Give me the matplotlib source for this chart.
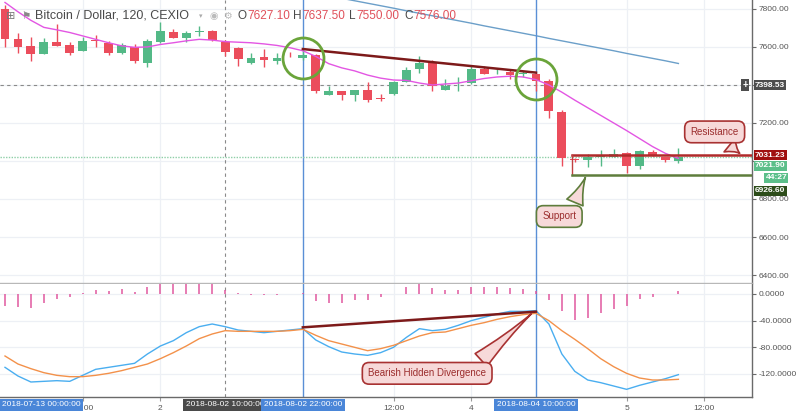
import matplotlib
matplotlib.use('Agg')
import matplotlib.pyplot as plt
from matplotlib.transforms import blended_transform_factory

plt.rcParams['font.family'] = ['Liberation Sans', 'DejaVu Sans']
plt.rcParams['axes.unicode_minus'] = False

# ---------------- data (2h candles, 2018-08-01 00:00 .. 2018-08-05 08:00) ----------------
opens = [7800, 7642, 7605, 7563, 7626, 7610, 7579, 7637, 7621, 7568,
         7600, 7516, 7626, 7679, 7647, 7679, 7684, 7627.1, 7595, 7516,
         7547, 7526, 7553, 7540, 7560, 7345, 7366, 7345, 7371, 7330,
         7350, 7415, 7483, 7518, 7371, 7408, 7410, 7486, 7466, 7470,
         7460, 7460, 7421, 7256, 7012, 7005, 7022, 7022, 7042, 6971,
         7046, 7022, 7000]
highs = [7820, 7674, 7653, 7647, 7721, 7626, 7653, 7663, 7632, 7621,
         7616, 7642, 7731, 7695, 7684, 7710, 7690, 7637.5, 7600, 7569,
         7589, 7570, 7574, 7584, 7565, 7392, 7370, 7375, 7416, 7355,
         7420, 7497, 7553, 7532, 7429, 7440, 7507, 7500, 7486, 7478,
         7476, 7466, 7430, 7268, 7016, 7037, 7060, 7063, 7048, 7060,
         7060, 7022, 7068]
lows = [7600, 7568, 7526, 7563, 7605, 7558, 7579, 7600, 7558, 7563,
        7516, 7495, 7621, 7647, 7626, 7660, 7632, 7550, 7500, 7510,
        7497, 7510, 7547, 7532, 7360, 7345, 7319, 7313, 7310, 7313,
        7345, 7415, 7463, 7366, 7371, 7366, 7405, 7460, 7460, 7431,
        7442, 7370, 7226, 6974, 6995, 6969, 6974, 7022, 6939, 6958,
        7027, 6997, 6990]
closes = [7642, 7600, 7563, 7626, 7605, 7568, 7632, 7632, 7568, 7610,
          7526, 7632, 7684, 7647, 7674, 7684, 7637, 7576, 7537, 7542,
          7529, 7542, 7550, 7558, 7366, 7366, 7345, 7371, 7319, 7326,
          7415, 7480, 7518, 7392, 7392, 7412, 7486, 7460, 7470, 7455,
          7464, 7420, 7265, 7016, 7005, 7022, 7032, 7037, 6976, 7053,
          7027, 7005, 7021.9]

ma_fast = [7834, 7785, 7740, 7703, 7690, 7676, 7658, 7640, 7622, 7606,
           7598, 7600, 7613, 7622, 7632, 7640, 7636, 7628, 7625, 7622,
           7616, 7608, 7596, 7580, 7550, 7512, 7490, 7474, 7452, 7436,
           7426, 7424, 7410, 7400, 7405, 7410, 7422, 7434, 7442, 7446,
           7442, 7428, 7400, 7362, 7320, 7280, 7240, 7200, 7160, 7118,
           7076, 7040, 7014]

ma_slow_start = 26
ma_slow = [7856, 7843, 7830, 7817, 7804, 7790, 7777, 7764, 7751, 7738,
           7725, 7711, 7698, 7685, 7672, 7659, 7645, 7632, 7619, 7606,
           7593, 7580, 7566, 7553, 7540, 7527, 7513]

macd = [-110, -123, -132, -131, -130, -131, -122, -113, -110, -107,
        -104, -90, -78, -70, -58, -49, -45, -49, -54, -56,
        -58, -56, -54, -52, -69, -79, -87, -90, -92, -88,
        -80, -65, -52, -55, -53, -47, -40, -35, -30, -26,
        -26, -25, -45, -90, -116, -129, -133, -138, -143, -137,
        -132, -127, -121]
signal = [-93, -105, -112, -118, -122, -124, -124, -122, -119, -115,
          -110, -105, -97, -88, -78, -67, -60, -55, -56, -56,
          -56, -56, -55, -53, -62, -70, -75, -80, -85, -82,
          -77, -70, -63, -58, -57, -52, -47, -43, -38, -34,
          -31, -29, -40, -55, -68, -82, -97, -109, -119, -126,
          -129, -129, -128]
hist = [-18, -20, -21, -14, -8, -5, 1, 6, 4.5, 8,
        3.5, 11, 17, 17, 17, 18, 15, 6, 1, -1,
        -2, -2, 0, 2, -10, -14, -14, -9, -9, -5,
        0, 11, 17, 9.5, 6, 6, 11, 10, 10, 9.5,
        8, 4.5, -9, -25, -39, -35.5, -28, -23, -18, -8,
        -4, 0, 4.5]

# tick labels / markers
x_ticks = [6, 12, 30, 36, 48, 54]
x_tick_labels = ['12:00', '2', '12:00', '4', '5', '12:00']
price_ticks = [6400, 6600, 6800, 7000, 7200, 7400, 7600, 7800]
hidden_price_ticks = [7000, 7400]   # fully covered by price tags in the reference
macd_ticks = [0, -40, -80, -120]

crosshair_idx = 17
crosshair_price = 7398.53
marked_idx = [23, 41]
marked_labels = ['2018-08-02 22:00:00', '2018-08-04 10:00:00']
crosshair_label = '2018-08-02 10:00:00'
left_label = '2018-07-13 00:00:00'

trend_price_x = [23, 41]
trend_price_y = [7589, 7465]
circle_x = [23, 41]
circle_y = [7544, 7429]
trend_macd_x = [23, 41]
trend_macd_y = [-50, -26.5]

resistance = 7031.23
support = 6926.60
zone_start = 43.8
last_price = 7021.90
countdown = '44:27'

header_title = 'Bitcoin / Dollar, 120, CEXIO'
ohlc_keys = ['O', 'H', 'L', 'C']
ohlc_vals = ['7627.10', '7637.50', '7550.00', '7576.00']

# ---------------- styling ----------------
GREEN = '#53b987'
RED = '#eb4d5c'
GRID = '#edf0f5'
AXC = '#6a6a6a'
TXT = '#4a4a4a'
BLUE_LBL = '#4a86d8'

fig = plt.figure(figsize=(8, 4.12), dpi=100)
W, H = 800.0, 412.0
ax = fig.add_axes([0, (H - 283) / H, 752 / W, 283 / H])
ax2 = fig.add_axes([0, (H - 397) / H, 752 / W, 113 / H], sharex=ax)

xmin, xmax = -5 / 12.95, (752 - 5) / 12.95
ax.set_xlim(xmin, xmax)
ax.set_ylim(6358, 7847)
ax2.set_ylim(-154.5, 15)

for a in (ax, ax2):
    a.set_facecolor('white')
    a.spines['top'].set_visible(False)
    a.spines['left'].set_visible(False)
    a.spines['right'].set_color(AXC)
    a.spines['right'].set_linewidth(1)
    a.yaxis.tick_right()
    a.tick_params(axis='y', labelsize=6, colors=AXC, labelcolor='#555555',
                  length=3, width=0.8, pad=2)
    for xt in x_ticks:
        a.axvline(xt, color=GRID, lw=0.9, zorder=0)
ax.spines['bottom'].set_color('#b8b8b8')
ax.spines['bottom'].set_linewidth(1)
ax2.spines['bottom'].set_color(AXC)
ax2.spines['bottom'].set_linewidth(1)

ax.set_yticks(price_ticks)
ax.set_yticklabels(['' if v in hidden_price_ticks else '%.2f' % v for v in price_ticks])
for p in price_ticks:
    ax.axhline(p, color=GRID, lw=0.9, zorder=0)
ax.tick_params(axis='x', bottom=False, labelbottom=False)

ax2.set_yticks(macd_ticks)
ax2.set_yticklabels(['%.4f' % v for v in macd_ticks])
for m in macd_ticks:
    ax2.axhline(m, color=GRID, lw=0.9, zorder=0)
ax2.set_xticks(x_ticks)
ax2.set_xticklabels(x_tick_labels)
ax2.tick_params(axis='x', labelsize=6, colors='#999999', labelcolor='#555555',
                length=3, width=0.8, pad=3)

# ---------------- candles ----------------
idx = list(range(len(opens)))
body_bottom, body_h, cols = [], [], []
for o, c in zip(opens, closes):
    lo_, hi_ = min(o, c), max(o, c)
    h = max(hi_ - lo_, 4)
    body_bottom.append(lo_)
    body_h.append(h)
    cols.append(GREEN if c >= o else RED)
ax.vlines(idx, lows, highs, colors=cols, lw=1, zorder=3)
ax.bar(idx, body_h, bottom=body_bottom, width=0.68, color=cols, lw=0, zorder=4)

# moving averages
ax.plot(idx, ma_fast, color='#e356e3', lw=1, zorder=5)
ax.plot(list(range(ma_slow_start, ma_slow_start + len(ma_slow))), ma_slow,
        color='#6b9fc9', lw=1, zorder=2)

# crosshair & markers
for a in (ax, ax2):
    a.axvline(crosshair_idx, color='#8a8a8a', lw=0.8, ls=(0, (3, 3)), zorder=2)
    for mi in marked_idx:
        a.axvline(mi, color='#5a8fd6', lw=1, zorder=2)
ax.axhline(crosshair_price, color='#8a8a8a', lw=0.8, ls=(0, (3, 3)), zorder=2)
ax.axhline(last_price, color='#8fcfa8', lw=1, ls=(0, (1, 1)), zorder=2)

# trend line & circles
ax.plot(trend_price_x, trend_price_y, color='#7d1a1a', lw=1.8, zorder=6)
ax.plot(circle_x, circle_y, ls='none', marker='o', ms=29.5, mfc='none',
        mec='#6aa43a', mew=2, zorder=7)

# support / resistance zone
ax.plot([zone_start, xmax], [resistance, resistance], color='#b02a2a', lw=1.8, zorder=6)
ax.plot([zone_start, zone_start], [support, resistance], color='#c04040', lw=1, zorder=6)
ax.plot([zone_start, xmax], [support, support], color='#5e7d3c', lw=1.8, zorder=6)

# callouts
WEDGE = 'wedge,tail_width=1.8,shrink_factor=0.35'
ax.annotate('Resistance', xy=(56.9, resistance), xytext=(54.8, 7153),
            ha='center', va='center', fontsize=7, color='#9b2d2d', zorder=8,
            bbox=dict(boxstyle='round,pad=0.6,rounding_size=0.7', fc='#f7d9d9',
                      ec='#a83232', lw=1.2),
            arrowprops=dict(arrowstyle=WEDGE, fc='#f7d9d9', ec='#a83232', lw=1.2,
                            relpos=(0.6, 0.0)))
ax.annotate('Support', xy=(44.9, support), xytext=(42.8, 6708),
            ha='center', va='center', fontsize=7, color='#9b2d2d', zorder=8,
            bbox=dict(boxstyle='round,pad=0.6,rounding_size=0.7', fc='#f7d9d9',
                      ec='#5e7d3c', lw=1.2),
            arrowprops=dict(arrowstyle=WEDGE, fc='#f7d9d9', ec='#5e7d3c', lw=1.2,
                            relpos=(0.85, 1.0)))

# MACD panel
ax2.vlines(idx, 0, hist, colors='#e0589f', lw=1.1, zorder=3)
ax2.plot(idx, macd, color='#4aaef0', lw=1, zorder=4)
ax2.plot(idx, signal, color='#f3914a', lw=1, zorder=4)
ax2.plot(trend_macd_x, trend_macd_y, color='#7d1a1a', lw=1.8, zorder=6)
ax2.annotate('Bearish Hidden Divergence', xy=(40.8, -27), xytext=(32.6, -119),
             ha='center', va='center', fontsize=7, color='#9b2d2d', zorder=8,
             bbox=dict(boxstyle='round,pad=0.6,rounding_size=0.7', fc='#f7d9d9',
                       ec='#a83232', lw=1.2),
             arrowprops=dict(arrowstyle=WEDGE, fc='#f7d9d9', ec='#a83232', lw=1.2,
                             relpos=(0.88, 1.0)))

# right-axis price labels
bt = blended_transform_factory(ax.transAxes, ax.transData)
def price_tag(value, text, fc, dy=0, dx=3, ha='left'):
    ax.annotate(text, xy=(1.0, value), xycoords=bt, xytext=(dx, dy),
                textcoords='offset pixels', ha=ha, va='center', fontsize=6,
                color='white', fontweight='bold', annotation_clip=False, zorder=10,
                bbox=dict(boxstyle='square,pad=0.15', fc=fc, ec='none'))

price_tag(crosshair_price, '%.2f' % crosshair_price, '#4d4d4d')
price_tag(resistance, '%.2f' % resistance, '#a01010')
price_tag(last_price, '%.2f' % last_price, '#5cbf8a', dy=-9)
price_tag(last_price, countdown, '#5cbf8a', dy=-21, dx=35, ha='right')
price_tag(support, '%.2f' % support, '#2d4d1a', dy=-16)
ax.annotate('+', xy=(1.0, crosshair_price), xycoords=bt, xytext=(-7, 0),
            textcoords='offset pixels', ha='center', va='center', fontsize=7,
            color='white', fontweight='bold', zorder=10,
            bbox=dict(boxstyle='square,pad=0.1', fc='#4d4d4d', ec='none'))

# bottom time labels
bt2 = blended_transform_factory(ax2.transData, ax2.transAxes)
def time_tag(x, text, fc, ha='center', trans=bt2):
    ax2.annotate(text, xy=(x, 0), xycoords=trans, xytext=(0, -8),
                 textcoords='offset pixels', ha=ha, va='center', fontsize=6,
                 color='white', annotation_clip=False, zorder=10,
                 bbox=dict(boxstyle='square,pad=0.3', fc=fc, ec='none'))

time_tag(crosshair_idx, crosshair_label, '#4a4a4a')
for mi, ml in zip(marked_idx, marked_labels):
    time_tag(mi, ml, BLUE_LBL)
time_tag(0.003, left_label, BLUE_LBL, ha='left', trans=ax2.transAxes)

# header
def ftext(px, py, s, **kw):
    return fig.text(px / W, 1 - py / H, s, va='center', **kw)

ftext(6, 16, '⊞', fontsize=8, color='#777777', family='DejaVu Sans')
ftext(21, 16, '⚑', fontsize=7.5, color='#888888', family='DejaVu Sans')
ftext(35, 16, header_title, fontsize=9, color=TXT)
ftext(199, 16, '▾', fontsize=5, color='#aaaaaa', family='DejaVu Sans')
ftext(209, 16, '◉', fontsize=7, color='#bbbbbb', family='DejaVu Sans')
ftext(223, 16, '⚙', fontsize=7, color='#bbbbbb', family='DejaVu Sans')
ohlc_px = [238, 293, 349, 404]
for px, k, v in zip(ohlc_px, ohlc_keys, ohlc_vals):
    key_t = ftext(px, 16, k, fontsize=8.5, color=TXT)
    fig.texts.append(plt.Annotation(v, xy=(1, 0.5), xycoords=key_t, xytext=(0.5, 0),
                                    textcoords='offset pixels', va='center', ha='left',
                                    fontsize=8.5, color='#e0505a'))
    fig.texts[-1].set_figure(fig)

fig.savefig('out.png', dpi=100, facecolor='white')
